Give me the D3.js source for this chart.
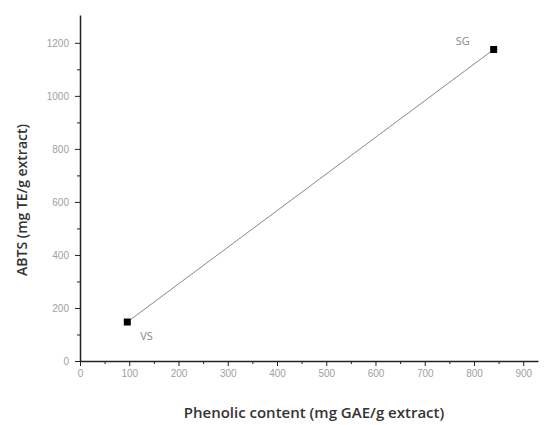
<!DOCTYPE html>
<html>
<head>
<meta charset="utf-8">
<script src="https://cdn.jsdelivr.net/npm/d3@7"></script>
<style>
  body { margin: 0; background: #fff; }
  svg { font-family: "Open Sans", "DejaVu Sans", sans-serif; }
  .tick text { fill: #a0a0a0; font-size: 10px; }
  .axis path, .axis line { stroke: #222; }
</style>
</head>
<body>
<div id="chart"></div>
<script>
// sample names and values
var samples = ['VS', 'SG'];
var phenolic = [96, 840];
var abts = [147, 1175];
var xTicks = [0, 100, 200, 300, 400, 500, 600, 700, 800, 900];
var yTicks = [0, 200, 400, 600, 800, 1000, 1200];

var width = 544, height = 425;
var margin = {top: 15, right: 6, bottom: 64, left: 80};

var svg = d3.select('#chart').append('svg')
    .attr('width', width)
    .attr('height', height);

var x = d3.scaleLinear()
    .domain([0, 930])
    .range([margin.left, width - margin.right]);

var y = d3.scaleLinear()
    .domain([0, 1305])
    .range([height - margin.bottom, margin.top]);

// minor ticks first
svg.append('g')
    .attr('class', 'axis')
    .attr('transform', 'translate(0,' + y(0) + ')')
    .call(d3.axisBottom(x).tickValues(d3.range(50, 930, 100)).tickSize(3).tickFormat(''))
    .select('.domain').remove();

svg.append('g')
    .attr('class', 'axis')
    .attr('transform', 'translate(' + x(0) + ',0)')
    .call(d3.axisLeft(y).tickValues(d3.range(100, 1300, 200)).tickSize(3).tickFormat(''))
    .select('.domain').remove();

var xAxis = svg.append('g')
    .attr('class', 'axis')
    .attr('transform', 'translate(0,' + y(0) + ')')
    .call(d3.axisBottom(x).tickValues(xTicks).tickSize(5).tickSizeOuter(0).tickPadding(4).tickFormat(d3.format('d')));
xAxis.select('.domain').attr('stroke-width', 1.5);

var yAxis = svg.append('g')
    .attr('class', 'axis')
    .attr('transform', 'translate(' + x(0) + ',0)')
    .call(d3.axisLeft(y).tickValues(yTicks).tickSize(5).tickSizeOuter(0).tickPadding(6).tickFormat(d3.format('d')));
yAxis.select('.domain').attr('stroke-width', 1.5);

var data = samples.map(function(s, i) {
    return {name: s, x: phenolic[i], y: abts[i]};
});

svg.append('path')
    .datum(data)
    .attr('fill', 'none')
    .attr('stroke', '#888')
    .attr('stroke-width', 1)
    .attr('d', d3.line().x(function(d) { return x(d.x); }).y(function(d) { return y(d.y); }));

svg.selectAll('.pt')
    .data(data)
    .enter().append('rect')
    .attr('class', 'pt')
    .attr('x', function(d) { return x(d.x) - 3.5; })
    .attr('y', function(d) { return y(d.y) - 3.5; })
    .attr('width', 7)
    .attr('height', 7)
    .attr('fill', '#000');

// point labels: VS below right, SG up left
var labelOffset = {VS: [13, 18], SG: [-38, -4]};
svg.selectAll('.lbl')
    .data(data)
    .enter().append('text')
    .attr('class', 'lbl')
    .attr('x', function(d) { return x(d.x) + labelOffset[d.name][0]; })
    .attr('y', function(d) { return y(d.y) + labelOffset[d.name][1]; })
    .attr('fill', '#888')
    .style('font-size', '11px')
    .text(function(d) { return d.name; });

svg.append('text')
    .attr('x', 314)
    .attr('y', 418)
    .attr('text-anchor', 'middle')
    .attr('fill', '#333')
    .style('font-size', '15px')
    .style('font-weight', 600)
    .text('Phenolic content (mg GAE/g extract)');

svg.append('text')
    .attr('transform', 'translate(27,' + 200 + ') rotate(-90)')
    .attr('text-anchor', 'middle')
    .attr('fill', '#333')
    .style('font-size', '14px')
    .style('font-weight', 600)
    .text('ABTS (mg TE/g extract)');
</script>
</body>
</html>
